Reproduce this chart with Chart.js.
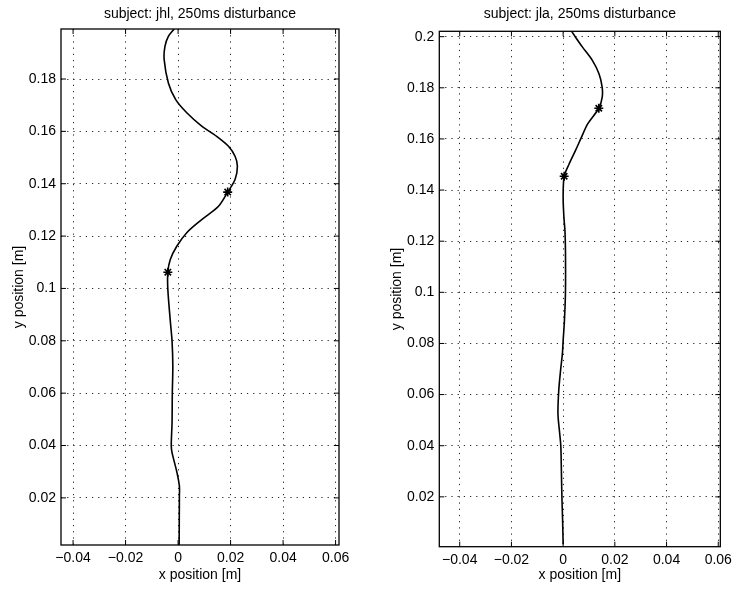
<!DOCTYPE html>
<html>
<head>
<meta charset="utf-8">
<script src="https://cdn.jsdelivr.net/npm/chart.js@4"></script>
<style>
  body { margin: 0; background: #fff; }
  #page { position: relative; width: 737px; height: 591px; }
  .box { position: absolute; top: 0; height: 591px; }
</style>
</head>
<body>
<div id="page">
  <div class="box" style="left:0;width:370px"><canvas id="jhl"></canvas></div>
  <div class="box" style="left:370px;width:367px"><canvas id="jla"></canvas></div>
</div>
<script>
// hand path, subject jhl (bottom to top)
const jhlX = [0.0004, 0.0005, 0.0005, -0.0005, -0.0023, -0.0026, -0.0023, -0.0022, -0.002, -0.0023, -0.0029,
              -0.0039, -0.0039, -0.003, -0.0005, 0.0033, 0.009, 0.0154, 0.0189, 0.0217, 0.0226, 0.0217,
              0.0192, 0.0147, 0.009, 0.0033, -0.0009, -0.0037, -0.0053, -0.005, -0.0037, -0.0015];
const jhlY = [0.002, 0.0207, 0.0245, 0.030, 0.0373, 0.040, 0.0487, 0.060, 0.0703, 0.0799, 0.0869,
              0.0996, 0.1062, 0.111, 0.1161, 0.1213, 0.1263, 0.1314, 0.1368, 0.1416, 0.1467, 0.1505,
              0.1543, 0.1581, 0.162, 0.1671, 0.1721, 0.1785, 0.1874, 0.1925, 0.1963, 0.1991];
const jhlMarkX = [-0.0039, 0.0189];
const jhlMarkY = [0.1062, 0.1368];

// hand path, subject jla
const jlaX = [0, -0.0002, -0.0005, -0.0007, -0.0009, -0.0013, -0.002, -0.0017, -0.001, -0.0003, 0,
              0.0005, 0.0009, 0.0009, 0.0007, 0.0003, 0, 0.0004, 0.0023, 0.0048, 0.0071, 0.0095,
              0.0138, 0.0151, 0.0151, 0.0139, 0.0113, 0.0075, 0.0048, 0.0026];
const jlaY = [0.0015, 0.0106, 0.021, 0.0315, 0.040, 0.0445, 0.0524, 0.0615, 0.0694, 0.0759, 0.0811,
              0.0889, 0.1, 0.1163, 0.1241, 0.1294, 0.1372, 0.1454, 0.1502, 0.1555, 0.1607, 0.1659,
              0.172, 0.1763, 0.1802, 0.1854, 0.1907, 0.1959, 0.1998, 0.2031];
const jlaMarkX = [0.0004, 0.0138];
const jlaMarkY = [0.1454, 0.172];

const xTicks = [-0.04, -0.02, 0, 0.02, 0.04, 0.06];
const xTickLabels = ['\u22120.04', '\u22120.02', '0', '0.02', '0.04', '0.06'];
const jhlYTicks = [0.02, 0.04, 0.06, 0.08, 0.1, 0.12, 0.14, 0.16, 0.18];
const jhlYTickLabels = ['0.02', '0.04', '0.06', '0.08', '0.1', '0.12', '0.14', '0.16', '0.18'];
const jlaYTicks = [0.02, 0.04, 0.06, 0.08, 0.1, 0.12, 0.14, 0.16, 0.18, 0.2];
const jlaYTickLabels = ['0.02', '0.04', '0.06', '0.08', '0.1', '0.12', '0.14', '0.16', '0.18', '0.2'];

const FONT = { family: '"Liberation Sans", Arial, Helvetica, sans-serif', size: 14, lineHeight: 1.2 };

// box around the axes plus short inward tick marks on every side
const frameTicks = {
  id: 'frameTicks',
  afterDraw(chart) {
    const { ctx, chartArea: a, scales: { x, y } } = chart;
    const len = 5;
    ctx.save();
    ctx.strokeStyle = '#000';
    ctx.lineWidth = 1.3;
    ctx.strokeRect(a.left, a.top, a.right - a.left, a.bottom - a.top);
    ctx.lineWidth = 1;
    ctx.beginPath();
    x.ticks.forEach(t => {
      const px = x.getPixelForValue(t.value);
      ctx.moveTo(px, a.bottom); ctx.lineTo(px, a.bottom - len);
      ctx.moveTo(px, a.top); ctx.lineTo(px, a.top + len);
    });
    y.ticks.forEach(t => {
      const py = y.getPixelForValue(t.value);
      ctx.moveTo(a.left, py); ctx.lineTo(a.left + len, py);
      ctx.moveTo(a.right, py); ctx.lineTo(a.right - len, py);
    });
    ctx.stroke();
    ctx.restore();
  }
};

function pts(xs, ys) {
  return xs.map((v, i) => ({ x: v, y: ys[i] }));
}

function makePlot(id, cfg) {
  new Chart(document.getElementById(id), {
    type: 'scatter',
    data: {
      datasets: [
        {
          data: pts(cfg.px, cfg.py),
          showLine: true,
          borderColor: '#000',
          borderWidth: 1.6,
          tension: 0.3,
          pointRadius: 0
        },
        {
          data: pts(cfg.mx, cfg.my),
          pointStyle: 'star',
          pointRadius: 4.5,
          borderColor: '#000',
          backgroundColor: '#000',
          pointBorderWidth: 1.6
        }
      ]
    },
    options: {
      responsive: true,
      maintainAspectRatio: false,
      animation: false,
      events: [],
      layout: { padding: { left: 0, right: cfg.padRight, top: 0, bottom: 0 } },
      plugins: {
        legend: { display: false },
        tooltip: { enabled: false },
        title: {
          display: true,
          text: cfg.title,
          color: '#000',
          fullSize: false,
          font: { ...FONT, weight: 'normal' },
          padding: { top: 5.6, bottom: cfg.titleGap }
        }
      },
      scales: {
        x: {
          type: 'linear',
          min: cfg.xMin,
          max: cfg.xMax,
          afterBuildTicks: s => { s.ticks = xTicks.map(v => ({ value: v })); },
          afterFit: s => { s.height = cfg.xAxisHeight; },
          ticks: {
            color: '#000',
            font: FONT,
            padding: 5,
            maxRotation: 0,
            autoSkip: false,
            callback: (v, i) => xTickLabels[i]
          },
          grid: { color: '#222', lineWidth: 1, drawTicks: false },
          border: { display: false, dash: [1.2, 5] },
          title: {
            display: true,
            text: 'x position [m]',
            color: '#000',
            font: FONT,
            padding: { top: 0, bottom: 7 }
          }
        },
        y: {
          type: 'linear',
          min: cfg.yMin,
          max: cfg.yMax,
          afterBuildTicks: s => { s.ticks = cfg.yTicks.map(v => ({ value: v })); },
          afterFit: s => { s.width = cfg.yAxisWidth; },
          ticks: {
            color: '#000',
            font: FONT,
            padding: 5,
            autoSkip: false,
            callback: (v, i) => cfg.yLabels[i]
          },
          grid: { color: '#222', lineWidth: 1, drawTicks: false },
          border: { display: false, dash: [1.2, 5] },
          title: {
            display: true,
            text: 'y position [m]',
            color: '#000',
            font: FONT,
            padding: { top: cfg.yTitlePad, bottom: 0 }
          }
        }
      }
    },
    plugins: [frameTicks]
  });
}

makePlot('jhl', {
  title: 'subject: jhl, 250ms disturbance',
  px: jhlX, py: jhlY, mx: jhlMarkX, my: jhlMarkY,
  xMin: -0.0446, xMax: 0.0613, yMin: 0.002, yMax: 0.1991,
  yTicks: jhlYTicks, yLabels: jhlYTickLabels,
  padRight: 31, titleGap: 6.6, xAxisHeight: 46, yAxisWidth: 61, yTitlePad: 10.6
});

makePlot('jla', {
  title: 'subject: jla, 250ms disturbance',
  px: jlaX, py: jlaY, mx: jlaMarkX, my: jlaMarkY,
  xMin: -0.0479, xMax: 0.0608, yMin: 0.0005, yMax: 0.2021,
  yTicks: jlaYTicks, yLabels: jlaYTickLabels,
  padRight: 16.3, titleGap: 8.9, xAxisHeight: 44.3, yAxisWidth: 69.3, yTitlePad: 18.6
});
</script>
</body>
</html>
